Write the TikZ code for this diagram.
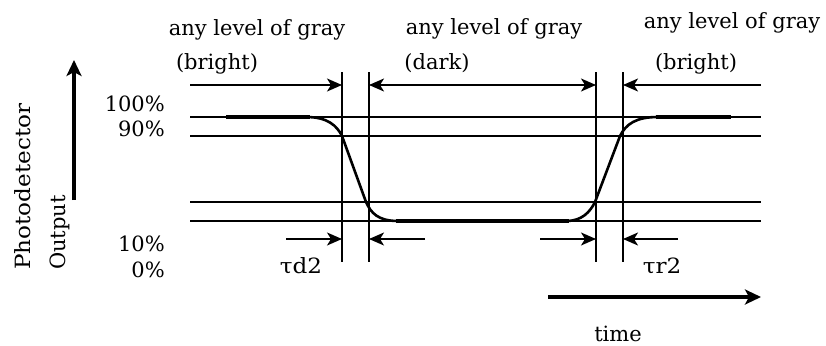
\documentclass[tikz,border=0pt]{standalone}
\usepackage{fontspec}
\setmainfont{DejaVu Serif}
\usetikzlibrary{arrows.meta}
\newcommand{\widetxt}[2]{\scalebox{#1}[1]{#2}}
\begin{document}
\begin{tikzpicture}[x=1pt,y=-1pt,
  txt/.style={font=\fontsize{21}{24}\selectfont, inner sep=0pt},
  thin/.style={line width=1.5pt},
  sig/.style={line width=2.6pt},
  sigflat/.style={line width=3.4pt},
  dimarrow/.style={line width=1.5pt,-{Stealth[length=15pt,width=13pt,inset=4pt]}},
  axisarrow/.style={line width=4pt,-{Stealth[length=16pt,width=15pt,inset=4pt]}}]
\useasboundingbox (0,0) rectangle (826,345);
% horizontal reference lines
\coordinate (h1l) at (190,117); \coordinate (h1r) at (761,117);
\coordinate (h2l) at (190,136); \coordinate (h2r) at (761,136);
\coordinate (h3l) at (190,202); \coordinate (h3r) at (761,202);
\coordinate (h4l) at (190,221); \coordinate (h4r) at (761,221);
\draw[thin] (h1l) -- (h1r);
\draw[thin] (h2l) -- (h2r);
\draw[thin] (h3l) -- (h3r);
\draw[thin] (h4l) -- (h4r);
% vertical lines
\foreach \n/\x in {a/342,b/369,c/596,d/623}{
  \coordinate (v\n t) at (\x,72);
  \coordinate (v\n b) at (\x,262);
  \draw[thin] (v\n t) -- (v\n b);
}
% top dimension arrows
\coordinate (t1) at (190,85); \coordinate (t1e) at (342,85);
\coordinate (t2) at (369,85); \coordinate (t2e) at (596,85);
\coordinate (t3) at (761,85); \coordinate (t3e) at (623,85);
\draw[dimarrow] (t1) -- (t1e);
\draw[line width=1.5pt,{Stealth[length=15pt,width=13pt,inset=4pt]}-{Stealth[length=15pt,width=13pt,inset=4pt]}] (t2) -- (t2e);
\draw[dimarrow] (t3) -- (t3e);
% bottom dimension arrows
\coordinate (b1) at (286,239); \coordinate (b1e) at (342,239);
\coordinate (b2) at (425,239); \coordinate (b2e) at (369,239);
\coordinate (b3) at (540,239); \coordinate (b3e) at (596,239);
\coordinate (b4) at (678,239); \coordinate (b4e) at (623,239);
\draw[dimarrow] (b1) -- (b1e);
\draw[dimarrow] (b2) -- (b2e);
\draw[dimarrow] (b3) -- (b3e);
\draw[dimarrow] (b4) -- (b4e);
% signal
\draw[sigflat] (226,117) -- (310,117);
\draw[sig] (306,117) .. controls (328,117) and (337,126) .. (342,136)
  -- (366,202) .. controls (371,213) and (378,221) .. (398,221);
\draw[sigflat] (396,221) -- (569,221);
\draw[sig] (566,221) .. controls (582,221) and (590,212) .. (595,202)
  -- (620,136) .. controls (626,124) and (636,117) .. (658,117);
\draw[sigflat] (656,117) -- (731,117);
% axes
\coordinate (ya) at (74,200); \coordinate (yb) at (74,60);
\draw[axisarrow] (ya) -- (yb);
\coordinate (xa) at (548,297); \coordinate (xb) at (761,297);
\draw[axisarrow] (xa) -- (xb);
% texts
\node[txt,anchor=base] (g1) at (257,36) {any level of gray};
\node[txt,anchor=base] (g2) at (494,35) {any level of gray};
\node[txt,anchor=base] (g3) at (732,29) {any level of gray};
\node[txt,anchor=base] (br1) at (217,70) {(bright)};
\node[txt,anchor=base] (dk) at (437,70) {(dark)};
\node[txt,anchor=base] (br2) at (696,69) {(bright)};
\node[txt,anchor=base east] (p100) at (165,111) {100\%};
\node[txt,anchor=base east] (p90) at (165,136) {90\%};
\node[txt,anchor=base east] (p10) at (165,251) {10\%};
\node[txt,anchor=base east] (p0) at (165,277) {0\%};
\node[txt,anchor=base] (td) at (301,273) {\widetxt{1.1}{τd2}};
\node[txt,anchor=base] (tr) at (662,273) {\widetxt{1.1}{τr2}};
\node[txt,anchor=base] (time) at (618,341) {time};
\node[txt,anchor=base west,rotate=90] (pd) at (30,270) {\widetxt{1.1}{Photodetector}};
\node[txt,anchor=base west,rotate=90] (out) at (65,270) {Output};
\end{tikzpicture}
\end{document}
